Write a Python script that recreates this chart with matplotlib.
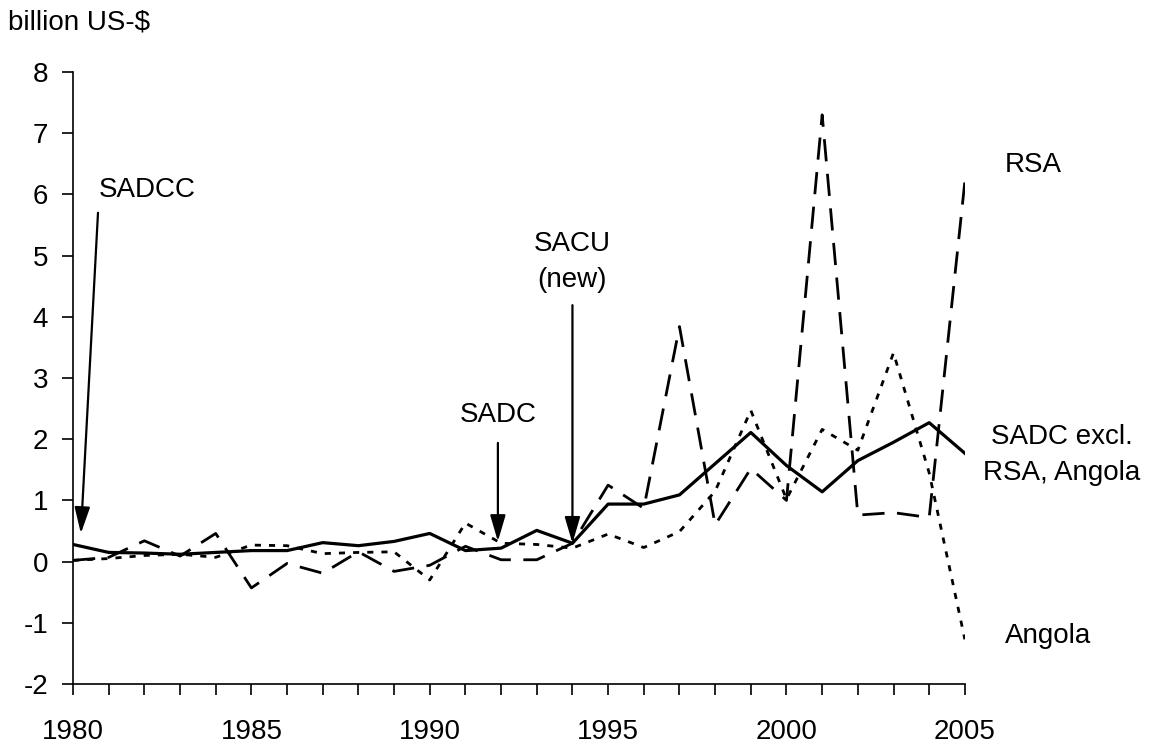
import matplotlib.pyplot as plt
from matplotlib.ticker import MultipleLocator

plt.rcParams['font.family'] = ['Liberation Sans', 'DejaVu Sans']
plt.rcParams['axes.unicode_minus'] = False

# Data (billion US-$)
years = list(range(1980, 2006))
sadc_excl = [0.28, 0.15, 0.14, 0.12, 0.15, 0.18, 0.18, 0.31, 0.26, 0.33, 0.46,
             0.18, 0.22, 0.51, 0.30, 0.94, 0.94, 1.09, 1.60, 2.11, 1.57,
             1.14, 1.65, 1.95, 2.27, 1.77]
rsa = [0.02, 0.07, 0.34, 0.09, 0.46, -0.43, -0.03, -0.19, 0.16, -0.16, -0.06,
       0.25, 0.03, 0.03, 0.30, 1.25, 0.87, 3.84, 0.60, 1.52, 1.00,
       7.30, 0.76, 0.80, 0.72, 6.21]
angola = [0.02, 0.05, 0.10, 0.12, 0.07, 0.27, 0.26, 0.13, 0.15, 0.16, -0.30,
          0.63, 0.30, 0.28, 0.22, 0.45, 0.23, 0.49, 1.15, 2.47, 1.02,
          2.16, 1.82, 3.41, 1.45, -1.27]

fig = plt.figure(figsize=(11.5, 7.46), dpi=100)
ax = fig.add_axes([0.0635, 0.0831, 0.7755, 0.8204])

ax.plot(years, sadc_excl, color='black', lw=2.3, linestyle='-')
ax.plot(years, rsa, color='black', lw=2.0, linestyle=(0, (8, 4.5)))
ax.plot(years, angola, color='black', lw=2.0, linestyle=(0, (2.2, 2.9)))

ax.set_xlim(1980, 2005)
ax.set_ylim(-2, 8)
ax.xaxis.set_major_locator(MultipleLocator(5))
ax.xaxis.set_minor_locator(MultipleLocator(1))
ax.yaxis.set_major_locator(MultipleLocator(1))
ax.tick_params(axis='x', which='both', direction='out', length=8, width=1.2, pad=17, labelsize=20)
ax.tick_params(axis='y', which='both', direction='out', length=8, width=1.2, pad=10, labelsize=20)

for side in ['top', 'right']:
    ax.spines[side].set_visible(False)
for side in ['left', 'bottom']:
    ax.spines[side].set_linewidth(1.2)

fs = 20
arrow = dict(arrowstyle='-|>,head_length=1.6,head_width=0.47', color='black',
             lw=1.6, mutation_scale=10, shrinkA=0, shrinkB=0)

# Annotations
ax.annotate('', xy=(1980.22, 0.46), xytext=(1980.7, 5.7), arrowprops=arrow)
ax.text(1982.07, 6.07, 'SADCC', fontsize=fs, ha='center', va='center')

ax.annotate('', xy=(1991.91, 0.33), xytext=(1991.91, 1.94), arrowprops=arrow)
ax.text(1991.91, 2.40, 'SADC', fontsize=fs, ha='center', va='center')

ax.annotate('', xy=(1994.0, 0.30), xytext=(1994.0, 4.19), arrowprops=arrow)
ax.text(1994.0, 4.89, 'SACU\n(new)', fontsize=fs, ha='center', va='center',
        linespacing=1.5)

# Series labels
ax.text(2006.12, 6.48, 'RSA', fontsize=fs, ha='left', va='center', clip_on=False)
ax.text(2007.72, 1.74, 'SADC excl.\nRSA, Angola', fontsize=fs, ha='center',
        va='center', linespacing=1.5, clip_on=False)
ax.text(2006.12, -1.22, 'Angola', fontsize=fs, ha='left', va='center', clip_on=False)

fig.text(8 / 1150, 1 - 22 / 746, 'billion US-$', fontsize=fs, ha='left', va='center')

plt.savefig('out.png', dpi=100)
